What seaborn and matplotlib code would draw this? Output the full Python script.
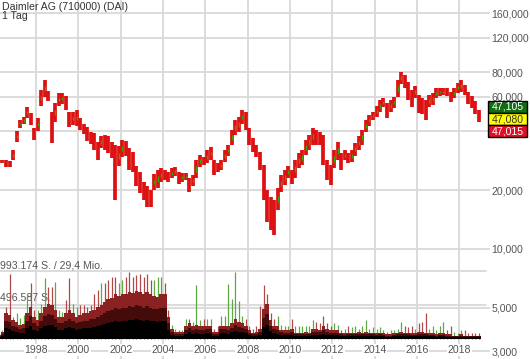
import numpy as np
import pandas as pd
import matplotlib
matplotlib.use("Agg")
import matplotlib.pyplot as plt
import seaborn as sns
from matplotlib.patches import Rectangle
from matplotlib.ticker import NullLocator

# ---------------- data ----------------
start_date = "1996-04-01"          # first 2-month period
title = "Daimler AG (710000) (DAI)"
subtitle = "1 Tag"

# price range per 2-month period (EUR)
hi = [28.8, 28.5, 28.5, 28.2, 32.0, 40.1, 45.6, 47.3, 53.1, 49.6,
      41.6, 46.7, 64.9, 73.0, 64.1, 50.1, 55.7, 62.7, 62.7, 60.5,
      50.1, 50.1, 51.3, 46.7, 43.5, 42.0, 39.6, 39.2, 35.3, 37.8,
      38.2, 37.8, 35.3, 34.0, 33.6, 36.1, 35.7, 32.8, 31.3, 26.6,
      24.7, 22.0, 20.9, 20.0, 24.2, 25.3, 25.9, 25.3, 24.7, 25.9,
      26.3, 24.7, 24.4, 24.4, 23.0, 23.9, 28.5, 30.2, 29.5, 32.0,
      33.2, 28.5, 27.5, 28.5, 32.0, 34.0, 40.6, 45.6, 47.3, 51.3,
      50.1, 41.6, 36.9, 34.0, 31.3, 26.9, 20.0, 18.5, 17.8, 20.5,
      23.9, 25.3, 26.6, 25.3, 28.5, 30.9, 32.0, 36.1, 38.2, 41.6,
      40.6, 39.6, 38.2, 28.5, 26.9, 32.0, 35.3, 30.9, 32.0, 30.9,
      32.0, 34.9, 37.8, 40.6, 45.6, 48.4, 50.1, 53.8, 57.7, 59.1,
      55.7, 57.7, 59.8, 73.0, 80.2, 77.5, 71.3, 64.9, 68.0, 61.2,
      59.1, 57.7, 61.2, 62.7, 66.4, 66.4, 66.4, 66.4, 63.4, 66.4,
      70.5, 73.0, 68.8, 63.4, 60.5, 57.0, 51.3]
lo = [27.2, 27.5, 26.3, 26.3, 28.5, 35.3, 41.6, 43.5, 46.7, 43.0,
      36.1, 40.1, 53.8, 59.8, 57.0, 34.9, 44.5, 53.8, 55.0, 51.3,
      42.0, 43.0, 42.5, 40.6, 38.7, 35.7, 34.4, 32.0, 28.5, 32.8,
      32.0, 30.9, 29.2, 17.8, 26.6, 29.5, 29.8, 25.3, 24.7, 20.9,
      19.3, 17.8, 16.4, 16.4, 20.0, 20.5, 22.0, 22.5, 22.0, 23.0,
      23.6, 21.5, 22.0, 22.5, 19.5, 20.9, 23.0, 26.3, 26.9, 27.5,
      28.5, 23.9, 24.7, 25.3, 27.8, 29.8, 34.0, 38.2, 39.6, 43.5,
      40.6, 34.0, 31.3, 29.5, 25.3, 17.8, 13.8, 12.5, 11.8, 15.8,
      19.5, 21.2, 23.0, 21.5, 23.0, 25.9, 26.9, 30.2, 32.0, 34.0,
      34.0, 34.0, 26.9, 22.5, 21.2, 25.9, 28.5, 25.3, 28.5, 27.5,
      27.8, 29.8, 32.0, 34.0, 39.6, 42.5, 45.6, 47.3, 50.1, 53.1,
      46.7, 50.1, 52.5, 59.8, 69.6, 66.4, 57.7, 53.1, 59.1, 49.6,
      49.0, 45.6, 53.1, 54.4, 59.1, 60.5, 61.2, 60.5, 56.4, 59.1,
      62.7, 63.4, 61.2, 55.0, 52.5, 49.0, 44.5]

# volume per period (thousand shares): typical level and peak day
vol_mass = [50, 100, 370, 345, 270, 245, 195, 220, 370, 465,
            320, 270, 370, 465, 515, 490, 415, 320, 320, 370,
            415, 370, 320, 345, 370, 370, 400, 420, 460, 500,
            540, 580, 600, 650, 620, 650, 650, 690, 670, 700,
            690, 650, 690, 650, 630, 610, 650, 650, 320, 145,
            100, 100, 103, 177, 221, 177, 206, 177, 177, 191,
            191, 103, 103, 191, 191, 177, 221, 294, 250, 221,
            191, 118, 88, 103, 147, 441, 515, 265, 191, 177,
            132, 118, 118, 147, 88, 88, 88, 103, 88, 147,
            147, 132, 177, 147, 118, 118, 118, 88, 74, 88,
            88, 88, 103, 88, 103, 88, 88, 74, 88, 74,
            59, 59, 74, 88, 103, 88, 88, 74, 74, 103,
            103, 88, 74, 74, 59, 74, 74, 59, 59, 44,
            44, 59, 44, 44, 44, 44, 44]
vol_peak = [60, 120, 465, 945, 320, 370, 295, 345, 660, 810,
            415, 415, 515, 885, 760, 760, 835, 415, 390, 565,
            885, 515, 465, 490, 490, 465, 490, 660, 710, 810,
            810, 860, 905, 905, 810, 860, 905, 980, 905, 930,
            955, 905, 955, 860, 860, 905, 905, 810, 415, 195,
            145, 125, 132, 294, 294, 250, 780, 265, 294, 294,
            294, 147, 177, 338, 338, 809, 588, 985, 559, 324,
            294, 177, 147, 177, 485, 794, 662, 368, 294, 324,
            206, 191, 177, 294, 177, 191, 177, 191, 177, 265,
            250, 221, 338, 235, 177, 221, 206, 132, 147, 177,
            162, 177, 147, 177, 265, 147, 162, 147, 162, 118,
            103, 118, 118, 147, 250, 177, 162, 191, 147, 221,
            250, 382, 147, 177, 118, 177, 250, 118, 177, 103,
            88, 118, 118, 88, 74, 74, 74]
vol_max = 993.174
vol_labels = ["993.174 S. / 29,4 Mio.", "496.587 S."]

price_ticks = [3, 5, 10, 20, 40, 60, 80, 120, 160]
price_labels = ["3,000", "5,000", "10,000", "20,000", "40,000",
                "60,000", "80,000", "120,000", "160,000"]
year_ticks = [1998, 2000, 2002, 2004, 2006, 2008, 2010, 2012, 2014, 2016, 2018]
year_labels = ["1998", "2000", "2002", "2004", "2006", "2008",
               "2010", "2012", "2014", "2016", "2018"]
last_quotes = ["47,105", "47,080", "47,015"]

# ---------------- style ----------------
sns.set_theme(style="white")
plt.rcParams["font.family"] = ["Liberation Sans", "DejaVu Sans"]
FS = 7.6
GRID = "#d9d9d9"
TXT = "#555555"
RED = "#dd1111"
GREEN = "#33aa00"

W, H = 530, 359
fig = plt.figure(figsize=(W / 100, H / 100), dpi=100, facecolor="white")
ax = fig.add_axes([0, 0, 490 / W, 1])

dates = pd.date_range(start_date, periods=len(hi), freq="2MS")
t = np.asarray(dates.year + (dates.dayofyear - 1) / 365.25, dtype=float)
hi_a = np.array(hi)
lo_a = np.array(lo)
mid = np.sqrt(hi_a * lo_a)
up = np.r_[False, mid[1:] > mid[:-1]]

# volume axis (created first so the price axis keeps its right-hand labels)
ax2 = ax.twinx()

# price axis
ax.set_yscale("log")
ax.set_ylim(2.741, 187.2)
ax.set_xlim(1996.30, 2019.446)
ax.set_yticks(price_ticks)
ax.set_yticklabels(price_labels)
ax.yaxis.set_minor_locator(NullLocator())
ax.yaxis.tick_right()
ax.yaxis.set_label_position("right")
ax.tick_params(axis="y", length=0, pad=1, labelsize=FS, labelcolor=TXT,
               left=False, labelleft=False, right=False, labelright=True)
ax.set_xticks(year_ticks)
ax.tick_params(axis="x", length=0, labelbottom=False)
ax.grid(True, color=GRID, lw=1.3)
ax.set_axisbelow(True)
for s in ax.spines.values():
    s.set_visible(False)

ax.vlines(t, lo_a, hi_a, color=RED, lw=2.7, zorder=3)
g_lo = np.exp(np.log(lo_a) + 0.35 * (np.log(hi_a) - np.log(lo_a)))
g_hi = np.exp(np.log(lo_a) + 0.65 * (np.log(hi_a) - np.log(lo_a)))
ax.vlines(t[up], g_lo[up], g_hi[up], color=GREEN, lw=0.9, zorder=4)

for yr, lab in zip(year_ticks, year_labels):
    ax.text(yr, 3.04, lab, ha="center", va="center", fontsize=FS, color=TXT,
            zorder=5, bbox=dict(fc="white", ec="none", pad=0.5))

# volume drawing
ax2.set_ylim(-301.6, 4980.7)
ax2.axhline(vol_max, xmax=486 / 490, color=GRID, lw=1.3, zorder=0)
ax2.axhline(vol_max / 2, xmax=486 / 490, color=GRID, lw=1.3, zorder=0)
ax2.text(0.0, 1 - 298 / H, vol_labels[1], transform=ax2.transAxes, ha="left",
         va="center", fontsize=FS, color=TXT, zorder=0.5)

mass_a = np.array(vol_mass, dtype=float)
peak_cols = np.where(up, "#5ea844", "#b04848")
ax2.vlines(t, 0, vol_peak, colors=peak_cols, lw=0.9, zorder=1)

widths = np.r_[np.diff(t), t[-1] - t[-2]]
layers = [(1.0, "#8a2222"), (0.7, "#450a0a"), (0.4, "#000000")]
for i, (frac, col) in enumerate(layers):
    ax2.bar(t, mass_a * frac, width=widths, align="center",
            color=col, linewidth=0, zorder=2 + i)
ax2.set_ylim(-301.6, 4980.7)
ax2.set_xlim(1996.30, 2019.446)
ax2.set_yticks([])
ax2.tick_params(axis="y", left=False, right=False, labelleft=False, labelright=False)
ax2.grid(False)
sns.despine(ax=ax2, left=True, bottom=True, right=True, top=True)

# texts
fig.text(2 / W, 1 - 6.5 / H, title, ha="left", va="center", fontsize=FS, color="#333333")
fig.text(2 / W, 1 - 16 / H, subtitle, ha="left", va="center", fontsize=FS, color="#333333")
fig.text(0 / W, 1 - 265 / H, vol_labels[0], ha="left", va="center", fontsize=FS, color=TXT)

# last quote boxes
box_cols = [("#136b13", "white"), ("#ffff00", "#333333"), ("#e0102a", "white")]
for i, (lab, (fc, tc)) in enumerate(zip(last_quotes, box_cols)):
    top = 101 + 12 * i
    fig.add_artist(Rectangle((488 / W, 1 - (top + 12) / H), 39 / W, 12 / H,
                             transform=fig.transFigure, fc=fc, ec="black", lw=1))
    fig.text(507.5 / W, 1 - (top + 6) / H, lab, ha="center", va="center",
             fontsize=FS, color=tc)

fig.savefig("out.png", dpi=100, facecolor="white")
